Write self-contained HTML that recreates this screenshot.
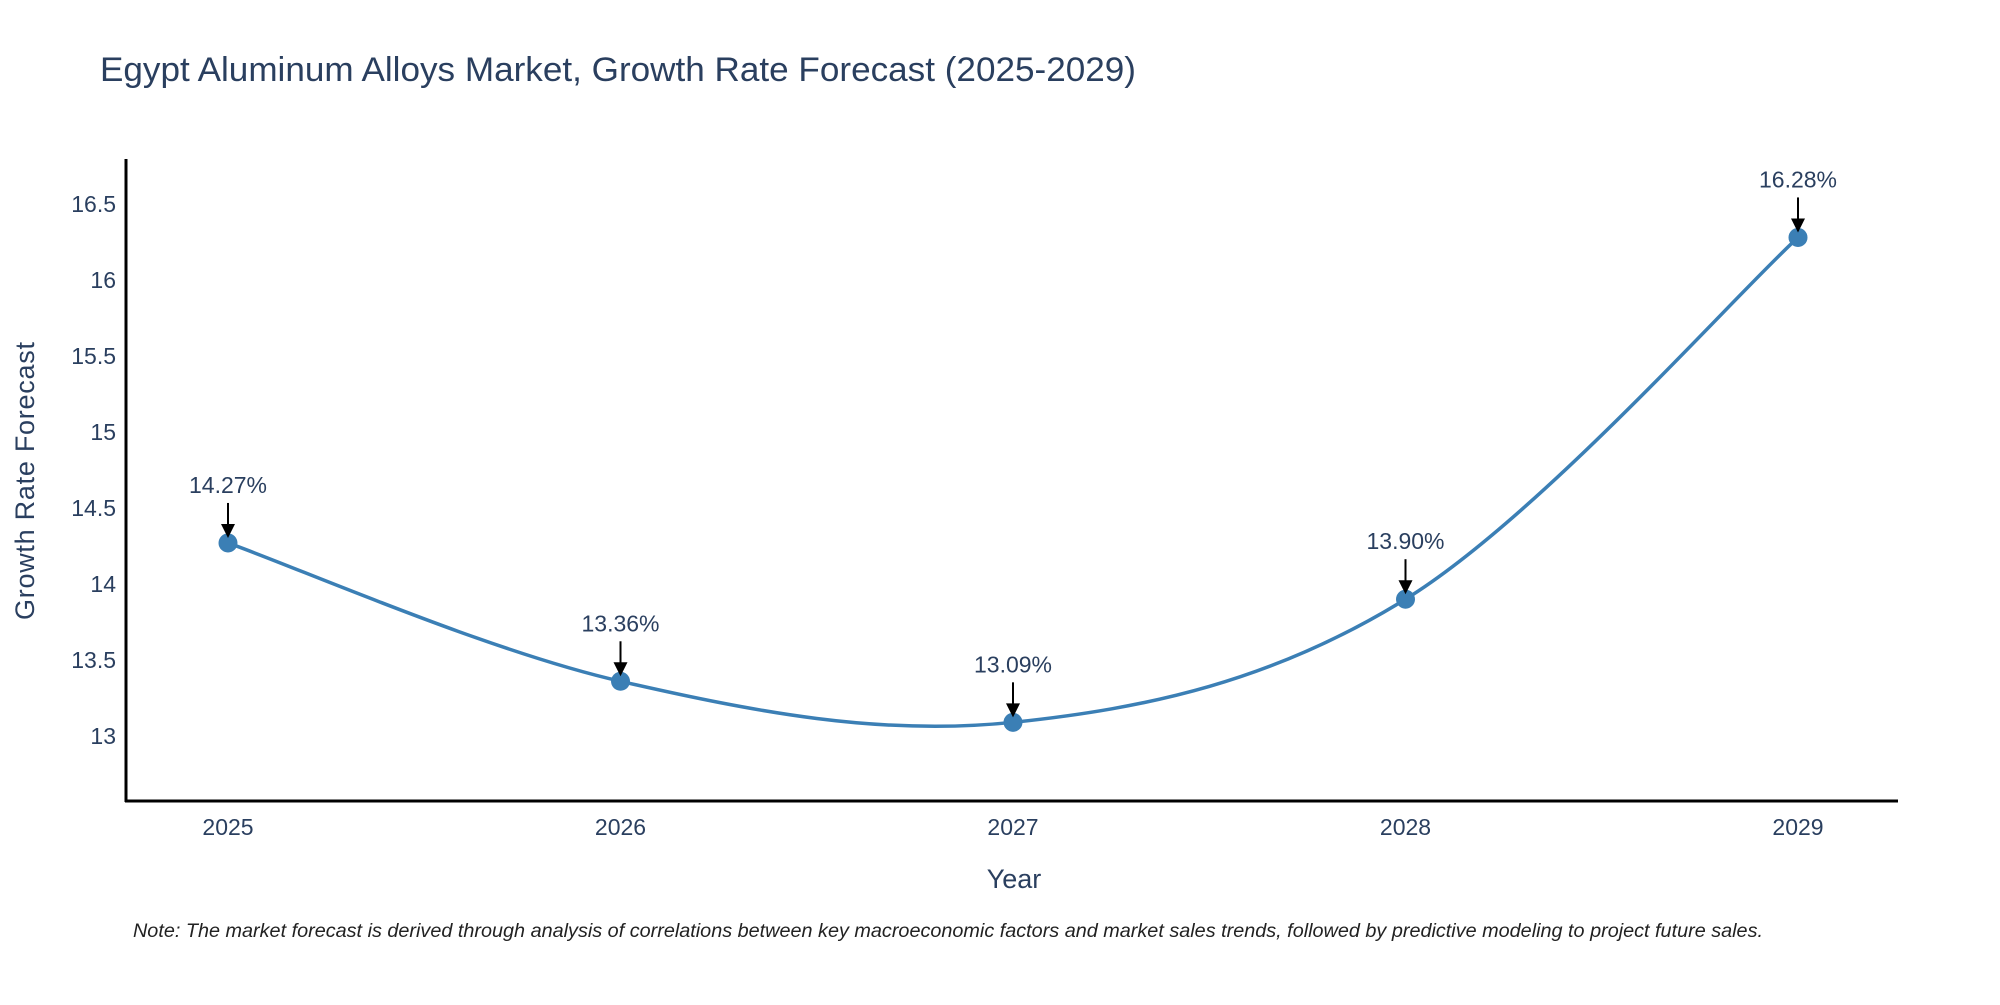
<!DOCTYPE html>
<html><head><meta charset="utf-8"><style>
body{margin:0;background:#fff}
svg text{font-family:"Liberation Sans",sans-serif;fill:#2a3f5f}
</style></head><body>
<svg id="c" width="2000" height="1000" xmlns="http://www.w3.org/2000/svg">
<text x="100" y="81" font-size="34" textLength="1036" lengthAdjust="spacingAndGlyphs">Egypt Aluminum Alloys Market, Growth Rate Forecast (2025-2029)</text>
<g id="yt"></g><g id="xt"></g>
<line x1="126" y1="159" x2="126" y2="802" stroke="#000" stroke-width="3"/>
<line x1="125" y1="801" x2="1898" y2="801" stroke="#000" stroke-width="3"/>
<path id="ln" fill="none" stroke="#3b7fb5" stroke-width="3.5"/>
<g id="pts"></g>
<text x="1014" y="888" font-size="27" text-anchor="middle">Year</text>
<text transform="translate(34,481) rotate(-90)" font-size="27" text-anchor="middle" textLength="278">Growth Rate Forecast</text>
<text x="133" y="937" font-size="19" font-style="italic" textLength="1630" lengthAdjust="spacingAndGlyphs" style="fill:#222">Note: The market forecast is derived through analysis of correlations between key macroeconomic factors and market sales trends, followed by predictive modeling to project future sales.</text>
</svg>
<script>
const years=["2025","2026","2027","2028","2029"];
const values=[14.27,13.36,13.09,13.90,16.28];
const labels=["14.27%","13.36%","13.09%","13.90%","16.28%"];
const yTicks=[13,13.5,14,14.5,15,15.5,16,16.5];
const yTickLabels=["13","13.5","14","14.5","15","15.5","16","16.5"];
const NS="http://www.w3.org/2000/svg";
const X=i=>228+i*(1798-228)/(years.length-1);
const Y=v=>736-(v-13)*152;
function mk(t,a,p){const e=document.createElementNS(NS,t);for(const k in a)e.setAttribute(k,a[k]);p.appendChild(e);return e;}
const yt=document.getElementById('yt');
yTicks.forEach((v,i)=>{const t=mk('text',{x:116,y:Y(v)+8,'font-size':23,'text-anchor':'end'},yt);

t.textContent=yTickLabels[i];});
const xt=document.getElementById('xt');
years.forEach((y,i)=>{const t=mk('text',{x:X(i),y:835,'font-size':23,'text-anchor':'middle'},xt);

t.textContent=y;});
const P=values.map((v,i)=>[X(i),Y(v)]);
let d='M'+P[0][0]+','+P[0][1];const s=0.17;
for(let i=0;i<P.length-1;i++){const p0=P[i-1]||P[i],p1=P[i],p2=P[i+1],p3=P[i+2]||P[i+1];
d+=` C${p1[0]+(p2[0]-p0[0])*s},${p1[1]+(p2[1]-p0[1])*s} ${p2[0]-(p3[0]-p1[0])*s},${p2[1]-(p3[1]-p1[1])*s} ${p2[0]},${p2[1]}`;}
document.getElementById('ln').setAttribute('d',d);
const g=document.getElementById('pts');
P.forEach((p,i)=>{const c=mk('circle',{cx:p[0],cy:p[1],r:9.5,fill:'#3b7fb5'},g);


const l=mk('line',{x1:p[0],y1:p[1]-40,x2:p[0],y2:p[1]-16,stroke:'#000','stroke-width':2},g);


const h=mk('polygon',{points:`${p[0]-7},${p[1]-19} ${p[0]+7},${p[1]-19} ${p[0]},${p[1]-5}`,fill:'#000'},g);


const t=mk('text',{x:p[0],y:p[1]-50,'font-size':23,'text-anchor':'middle'},g);

t.textContent=labels[i];});
</script>
</body></html>
